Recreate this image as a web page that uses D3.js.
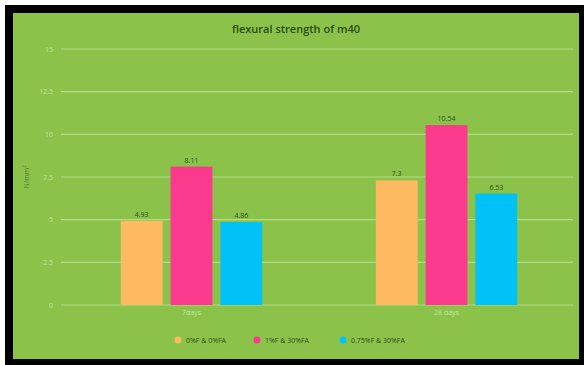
<!DOCTYPE html>
<html>
<head>
<meta charset="utf-8">
<script src="https://cdn.jsdelivr.net/npm/d3@7"></script>
<style>
  html, body { margin: 0; padding: 0; background: #ffffff; }
  svg { display: block; }
  text { font-family: "Open Sans", "Noto Sans", sans-serif; }
</style>
</head>
<body>
<svg id="chart" width="584" height="365"></svg>
<script>
// Chart data
const categories = ["7days", "28 days"];
const seriesNames = ["0%F & 0%FA", "1%F & 30%FA", "0.75%F & 30%FA"];
const seriesValues = [
  [4.93, 7.3],    // 0%F & 0%FA
  [8.11, 10.54],  // 1%F & 30%FA
  [4.86, 6.53]    // 0.75%F & 30%FA
];
const yTicks = [0, 2.5, 5, 7.5, 10, 12.5, 15];
const colors = ["#ffb960", "#fb3a8e", "#00c2f7"];

const W = 584, H = 365;
const svg = d3.select("#chart");

// Frame: black border around a green panel
svg.append("rect").attr("x", 5).attr("y", 5).attr("width", W - 5).attr("height", H - 5).attr("fill", "#000");
svg.append("rect").attr("x", 13).attr("y", 13).attr("width", 566).attr("height", 346).attr("fill", "#8bc34a");

const plot = { left: 61, right: 573, top: 49, bottom: 305 };

const x0 = d3.scaleBand().domain(categories).range([64, 574]).paddingInner(0).paddingOuter(0);
const x1 = d3.scaleBand().domain(d3.range(seriesNames.length)).range([0, x0.bandwidth()])
  .paddingInner(0.16).paddingOuter(1.14);
const y = d3.scaleLinear().domain([0, 15]).range([plot.bottom, plot.top]);

// Gridlines
svg.append("g").selectAll("line").data(yTicks).join("line")
  .attr("x1", plot.left).attr("x2", plot.right)
  .attr("y1", d => y(d)).attr("y2", d => y(d))
  .attr("stroke", "#b4dc86").attr("stroke-width", 1.2);

// Y axis labels
const yAxis = d3.axisLeft(y).tickValues(yTicks).tickSize(0).tickPadding(8)
  .tickFormat(d => String(d));
const ya = svg.append("g").attr("transform", `translate(${plot.left},0)`).call(yAxis);
ya.select(".domain").remove();
ya.selectAll("text").attr("fill", "#c5e3a3").attr("font-size", 7);

// Y axis title
svg.append("text")
  .attr("transform", `translate(29,${(plot.top + plot.bottom) / 2}) rotate(-90)`)
  .attr("text-anchor", "middle").attr("font-size", 7).attr("fill", "#4f7a2a")
  .text("N/mm²");

// X axis labels
const xAxis = d3.axisBottom(x0).tickSize(0).tickPadding(5);
const xa = svg.append("g").attr("transform", `translate(0,${plot.bottom})`).call(xAxis);
xa.select(".domain").remove();
xa.selectAll("text").attr("fill", "#c5e3a3").attr("font-size", 7);

// Bars
const rows = [];
seriesValues.forEach((vals, s) => vals.forEach((v, c) => rows.push({ s, c, v })));

svg.append("g").selectAll("rect").data(rows).join("rect")
  .attr("x", d => x0(categories[d.c]) + x1(d.s))
  .attr("width", x1.bandwidth())
  .attr("y", d => y(d.v))
  .attr("height", d => y(0) - y(d.v))
  .attr("fill", d => colors[d.s]);

// Value labels
svg.append("g").selectAll("text").data(rows).join("text")
  .attr("x", d => x0(categories[d.c]) + x1(d.s) + x1.bandwidth() / 2)
  .attr("y", d => y(d.v) - 4)
  .attr("text-anchor", "middle").attr("font-size", 7).attr("fill", "#2f4a1a")
  .text(d => String(d.v));

// Title
svg.append("text").attr("x", 296).attr("y", 33).attr("text-anchor", "middle")
  .attr("font-size", 11).attr("font-weight", "600").attr("fill", "#2b4a12")
  .text("flexural strength of m40");

// Legend
const legendX = [178, 257, 343];
const lg = svg.append("g").selectAll("g").data(seriesNames).join("g")
  .attr("transform", (d, i) => `translate(${legendX[i]},340)`);
lg.append("circle").attr("r", 3.5).attr("fill", (d, i) => colors[i]);
lg.append("text").attr("x", 8).attr("y", 2.5).attr("font-size", 7).attr("fill", "#2f4a1a")
  .text(d => d);
</script>
</body>
</html>
